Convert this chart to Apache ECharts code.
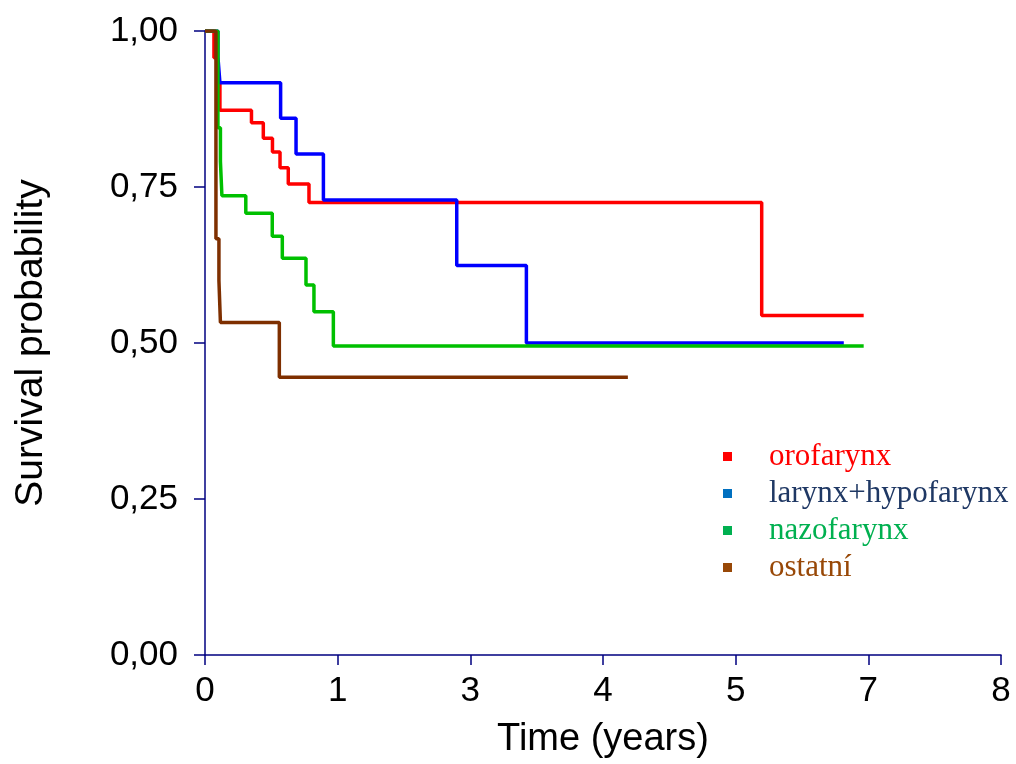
<!DOCTYPE html>
<html>
<head>
<meta charset="utf-8">
<script src="https://cdn.jsdelivr.net/npm/echarts@6/dist/echarts.min.js"></script>
<style>
  html, body { margin: 0; padding: 0; background: #ffffff; }
  #chart { width: 1016px; height: 764px; }
</style>
</head>
<body>
<div id="chart"></div>
<script>
// Kaplan–Meier survival estimates per tumour site (time in years)
const seriesNames = ['orofarynx', 'larynx+hypofarynx', 'nazofarynx', 'ostatní'];

const oroTimes = [0, 0.09, 0.12, 0.15, 0.467, 0.586, 0.678, 0.754, 0.837, 1.045, 5.595, 6.62];
const oroSurv  = [1, 0.957, 0.915, 0.873, 0.853, 0.828, 0.806, 0.781, 0.755, 0.725, 0.544, 0.544];

const larTimes = [0, 0.13, 0.15, 0.76, 0.915, 1.19, 2.53, 3.23, 6.42];
const larSurv  = [1, 0.958, 0.917, 0.860, 0.803, 0.729, 0.624, 0.500, 0.500];

const nazTimes = [0, 0.13, 0.155, 0.17, 0.41, 0.676, 0.777, 1.015, 1.095, 1.29, 6.62];
const nazSurv  = [1, 0.845, 0.791, 0.736, 0.708, 0.671, 0.636, 0.593, 0.550, 0.495, 0.495];

const ostTimes = [0, 0.11, 0.14, 0.155, 0.747, 4.25];
const ostSurv  = [1, 0.667, 0.600, 0.533, 0.445, 0.445];

const xTickMin = 0, xTickMax = 8, xTickCount = 6;
const yTicks = [0, 0.25, 0.5, 0.75, 1];

const lineColors   = ['#ff0000', '#0000ff', '#00c000', '#7e2f00'];
const legendMarks  = ['#ff0000', '#0070c0', '#00b050', '#984807'];
const legendTexts  = ['#ff0000', '#1f3864', '#00b050', '#984807'];

const pairs = (t, s) => t.map((v, i) => [v, s[i]]);
const curves = [
  pairs(oroTimes, oroSurv),
  pairs(larTimes, larSurv),
  pairs(nazTimes, nazSurv),
  pairs(ostTimes, ostSurv)
];

const axisColor = '#000080';
const sans = 'Liberation Sans, Arial, sans-serif';

const chart = echarts.init(document.getElementById('chart'), null, { renderer: 'canvas' });
chart.setOption({
  animation: false,
  backgroundColor: '#ffffff',
  grid: { left: 205, right: 15, top: 31, bottom: 107, containLabel: false },
  legend: {
    orient: 'vertical',
    left: 718,
    top: 436,
    itemWidth: 9,
    itemHeight: 9,
    itemGap: 6,
    selectedMode: false,
    data: seriesNames.map((n, i) => ({
      name: n,
      icon: 'rect',
      itemStyle: { color: legendMarks[i] },
      textStyle: {
        color: legendTexts[i],
        fontFamily: 'Liberation Serif, Times New Roman, serif',
        fontSize: 31,
        padding: [0, 0, 0, 32]
      }
    }))
  },
  xAxis: {
    type: 'value',
    min: xTickMin,
    max: xTickMax,
    interval: (xTickMax - xTickMin) / xTickCount,
    name: 'Time (years)',
    nameLocation: 'middle',
    nameGap: 66,
    nameTextStyle: { fontFamily: sans, fontSize: 38, color: '#000000' },
    axisLine: { show: true, lineStyle: { color: axisColor, width: 1.5 } },
    axisTick: { show: true, inside: false, length: 10, lineStyle: { color: axisColor, width: 1.5 } },
    axisLabel: {
      margin: 19,
      fontFamily: sans,
      fontSize: 35,
      color: '#000000',
      formatter: v => String(Math.round(v))
    },
    splitLine: { show: false }
  },
  yAxis: {
    type: 'value',
    min: yTicks[0],
    max: yTicks[yTicks.length - 1],
    interval: yTicks[1] - yTicks[0],
    name: 'Survival probability',
    nameLocation: 'middle',
    nameGap: 154,
    nameRotate: 90,
    nameTextStyle: { fontFamily: sans, fontSize: 39, color: '#000000' },
    axisLine: { show: true, lineStyle: { color: axisColor, width: 1.5 } },
    axisTick: { show: true, inside: false, length: 11, lineStyle: { color: axisColor, width: 1.5 } },
    axisLabel: {
      margin: 27,
      fontFamily: sans,
      fontSize: 35,
      color: '#000000',
      formatter: v => v.toFixed(2).replace('.', ',')
    },
    splitLine: { show: false }
  },
  series: seriesNames.map((n, i) => ({
    name: n,
    type: 'line',
    step: 'end',
    data: curves[i],
    showSymbol: false,
    symbol: 'none',
    color: lineColors[i],
    lineStyle: { color: lineColors[i], width: 3.5 },
    z: 2 + i
  }))
});
</script>
</body>
</html>
